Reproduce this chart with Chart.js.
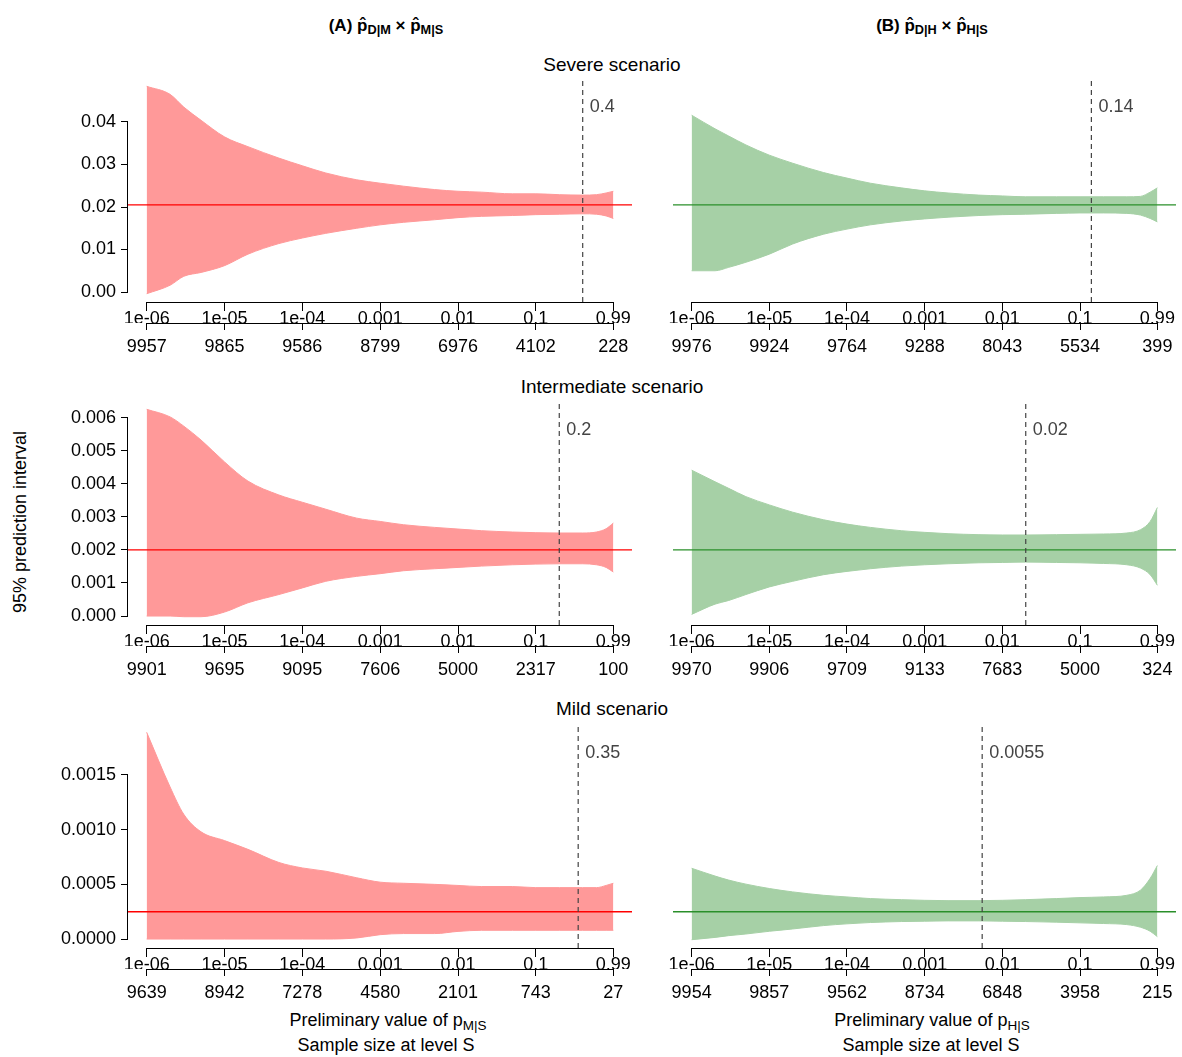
<!DOCTYPE html>
<html>
<head>
<meta charset="utf-8">
<script src="https://cdn.jsdelivr.net/npm/chart.js@4.4.1/dist/chart.umd.min.js"></script>
<style>
  body { margin: 0; background: #fff; font-family: "Liberation Sans", Arial, sans-serif; }
  #wrap { position: relative; width: 1182px; height: 1057px; overflow: hidden; }
  canvas { position: absolute; }
  .txt { position: absolute; white-space: nowrap; transform: translate(-50%, -50%); color: #000; font-size: 18px; line-height: 1; }
  .ttl { font-weight: bold; font-size: 17px; }
  .row { font-size: 19px; }
  .ylab { transform: translate(-50%, -50%) rotate(-90deg); }
  sub { font-size: 75%; vertical-align: -0.3em; line-height: 0; }
</style>
</head>
<body>
<div id="wrap">
  <div class="txt ttl" style="left:386px; top:25px">(A) p&#770;<sub>D|M</sub> &times; p&#770;<sub>M|S</sub></div>
  <div class="txt ttl" style="left:932px; top:25px">(B) p&#770;<sub>D|H</sub> &times; p&#770;<sub>H|S</sub></div>

  <div class="txt row" style="left:612px; top:64px">Severe scenario</div>
  <div class="txt row" style="left:612px; top:386px">Intermediate scenario</div>
  <div class="txt row" style="left:612px; top:708px">Mild scenario</div>

  <div class="txt ylab" style="left:20px; top:522px">95% prediction interval</div>

  <div class="txt" style="left:388px; top:1020px">Preliminary value of p<sub>M|S</sub></div>
  <div class="txt" style="left:386px; top:1045px">Sample size at level S</div>
  <div class="txt" style="left:932px; top:1020px">Preliminary value of p<sub>H|S</sub></div>
  <div class="txt" style="left:931px; top:1045px">Sample size at level S</div>

  <canvas id="c1" width="640" height="289" style="left:0px; top:70px"></canvas>
  <canvas id="c2" width="542" height="289" style="left:640px; top:70px"></canvas>
  <canvas id="c3" width="640" height="289" style="left:0px; top:393px"></canvas>
  <canvas id="c4" width="542" height="289" style="left:640px; top:393px"></canvas>
  <canvas id="c5" width="640" height="289" style="left:0px; top:716px"></canvas>
  <canvas id="c6" width="542" height="289" style="left:640px; top:716px"></canvas>
</div>

<script>
// preliminary values of p at which the intervals were computed
const pGrid = [1e-6, 2e-6, 3e-6, 5e-6, 1e-5, 2e-5, 5e-5, 1e-4, 2e-4, 5e-4, 0.001, 0.002, 0.005,
               0.01, 0.02, 0.05, 0.1, 0.2, 0.4, 0.6, 0.8, 0.99];

// severe scenario
const severeUpperA = [0.0484, 0.0465, 0.0435, 0.0404, 0.0365, 0.0342, 0.0315, 0.0297, 0.0280, 0.0264, 0.0256,
                      0.0249, 0.0241, 0.0237, 0.0235, 0.0231, 0.0231, 0.0229, 0.0228, 0.0229, 0.0233, 0.0237];
const severeLowerA = [-0.0004, 0.0016, 0.0037, 0.0046, 0.0062, 0.0089, 0.0114, 0.0127, 0.0138, 0.0150, 0.0158,
                      0.0164, 0.0170, 0.0175, 0.0178, 0.0180, 0.0182, 0.0183, 0.0184, 0.0183, 0.0179, 0.0173];
const severeUpperB = [0.0416, 0.0384, 0.0367, 0.0346, 0.0322, 0.0303, 0.0281, 0.0268, 0.0256, 0.0245, 0.0238,
                      0.0233, 0.0228, 0.0226, 0.0224, 0.0224, 0.0224, 0.0224, 0.0224, 0.0225, 0.0235, 0.0245];
const severeLowerB = [0.0050, 0.0050, 0.0058, 0.0070, 0.0089, 0.0113, 0.0136, 0.0148, 0.0158, 0.0167, 0.0172,
                      0.0176, 0.0180, 0.0182, 0.0183, 0.0185, 0.0186, 0.0186, 0.0185, 0.0181, 0.0173, 0.0165];

// intermediate scenario
const interUpperA = [0.00625, 0.00602, 0.00574, 0.00532, 0.00466, 0.00408, 0.00366, 0.00344, 0.00323, 0.00296, 0.00286,
                     0.00276, 0.00268, 0.00263, 0.00258, 0.00254, 0.00252, 0.00251, 0.00251, 0.00254, 0.00264, 0.00281];
const interLowerA = [0.0, 0.0, -0.00002, -0.00002, 0.00012, 0.00040, 0.00065, 0.00085, 0.00105, 0.00120, 0.00128,
                     0.00137, 0.00143, 0.00147, 0.00151, 0.00155, 0.00157, 0.00158, 0.00158, 0.00155, 0.00147, 0.00133];
const interUpperB = [0.00441, 0.00406, 0.00386, 0.00361, 0.00336, 0.00314, 0.00291, 0.00278, 0.00268, 0.00258, 0.00253,
                     0.00249, 0.00246, 0.00245, 0.00245, 0.00246, 0.00247, 0.00248, 0.00251, 0.00261, 0.00286, 0.00328];
const interLowerB = [0.00005, 0.00036, 0.00047, 0.00065, 0.00088, 0.00105, 0.00125, 0.00135, 0.00143, 0.00151, 0.00155,
                     0.00158, 0.00161, 0.00162, 0.00163, 0.00162, 0.00161, 0.00159, 0.00155, 0.00145, 0.00125, 0.00093];

// mild scenario
const mildUpperA = [0.00189, 0.00139, 0.00114, 0.00098, 0.00090, 0.00082, 0.00070, 0.00065, 0.00062, 0.00056, 0.00052,
                    0.00051, 0.00050, 0.00049, 0.00048, 0.00048, 0.00047, 0.00047, 0.00047, 0.00047, 0.00049, 0.00051];
const mildLowerA = [0.0, 0.0, 0.0, 0.0, 0.0, 0.0, 0.0, 0.0, 0.0, 0.00001, 0.00004,
                    0.00005, 0.00005, 0.00007, 0.00008, 0.00008, 0.00008, 0.00008, 0.00008, 0.00008, 0.00008, 0.00008];
const mildUpperB = [0.000647, 0.000576, 0.000539, 0.000502, 0.000462, 0.000431, 0.000400, 0.000385, 0.000370, 0.000360, 0.000354,
                    0.000351, 0.000351, 0.000354, 0.000360, 0.000370, 0.000379, 0.000385, 0.000400, 0.000447, 0.000555, 0.000672];
const mildLowerB = [-0.000006, 0.000015, 0.000031, 0.000046, 0.000071, 0.000092, 0.000123, 0.000139, 0.000151, 0.000160, 0.000163,
                    0.000166, 0.000166, 0.000163, 0.000160, 0.000154, 0.000148, 0.000142, 0.000132, 0.000108, 0.000071, 0.000022];

// true values (horizontal lines) and the dashed cut-offs
const trueValues = [0.0205, 0.002, 0.00025];
const cutoffsA = [0.4, 0.2, 0.35];
const cutoffsB = [0.14, 0.02, 0.0055];

// axis ticks
const pTicks = [1e-6, 1e-5, 1e-4, 0.001, 0.01, 0.1, 0.99];
const pTickLabels = ['1e-06', '1e-05', '1e-04', '0.001', '0.01', '0.1', '0.99'];
const sizesSevereA = ['9957', '9865', '9586', '8799', '6976', '4102', '228'];
const sizesSevereB = ['9976', '9924', '9764', '9288', '8043', '5534', '399'];
const sizesInterA = ['9901', '9695', '9095', '7606', '5000', '2317', '100'];
const sizesInterB = ['9970', '9906', '9709', '9133', '7683', '5000', '324'];
const sizesMildA = ['9639', '8942', '7278', '4580', '2101', '743', '27'];
const sizesMildB = ['9954', '9857', '9562', '8734', '6848', '3958', '215'];
const yTicksSevere = [0, 0.01, 0.02, 0.03, 0.04];
const yLabelsSevere = ['0.00', '0.01', '0.02', '0.03', '0.04'];
const yTicksInter = [0, 0.001, 0.002, 0.003, 0.004, 0.005, 0.006];
const yLabelsInter = ['0.000', '0.001', '0.002', '0.003', '0.004', '0.005', '0.006'];
const yTicksMild = [0, 0.0005, 0.001, 0.0015];
const yLabelsMild = ['0.0000', '0.0005', '0.0010', '0.0015'];

const RED_FILL = '#ff9999', RED_LINE = '#ff0000';
const GREEN_FILL = '#a6d0a6', GREEN_LINE = '#2a8f2a';

Chart.defaults.font.family = '"Liberation Sans", Arial, sans-serif';
Chart.defaults.font.size = 18;
Chart.defaults.color = '#000';

// R-like plot range: data range stretched by 4% on each side
function rRange(vals) {
  const lo = Math.min(...vals), hi = Math.max(...vals);
  const d = (hi - lo) * 0.04;
  return [lo - d, hi + d];
}
const logP = pGrid.map(p => Math.log10(p));
const xr = rRange(logP);
const xMin = Math.pow(10, xr[0]), xMax = Math.pow(10, xr[1]);

// axis lines only from first to last tick, as R draws them
const rAxisLines = {
  id: 'rAxisLines',
  afterDraw(chart) {
    const ctx = chart.ctx;
    ctx.save();
    ctx.strokeStyle = '#000';
    ctx.lineWidth = 1;
    ['x', 'x2'].forEach(id => {
      const s = chart.scales[id];
      const a = s.getPixelForValue(pTicks[0]);
      const b = s.getPixelForValue(pTicks[pTicks.length - 1]);
      ctx.beginPath();
      ctx.moveTo(a, Math.round(s.top) + 0.5);
      ctx.lineTo(b, Math.round(s.top) + 0.5);
      ctx.stroke();
    });
    const y = chart.scales.y;
    if (y.options.display) {
      const t = y.ticks;
      const a = y.getPixelForValue(t[0].value);
      const b = y.getPixelForValue(t[t.length - 1].value);
      ctx.beginPath();
      ctx.moveTo(Math.round(y.right) - 0.5, a);
      ctx.lineTo(Math.round(y.right) - 0.5, b);
      ctx.stroke();
    }
    ctx.restore();
  }
};

// text next to the dashed cut-off line
const cutoffLabel = {
  id: 'cutoffLabel',
  afterDatasetsDraw(chart, args, opts) {
    const x = chart.scales.x.getPixelForValue(opts.value);
    const ctx = chart.ctx;
    ctx.save();
    ctx.fillStyle = '#444';
    ctx.font = '18px "Liberation Sans", Arial, sans-serif';
    ctx.textBaseline = 'middle';
    ctx.fillText(opts.text, x + 7, chart.chartArea.top + 29);
    ctx.restore();
  }
};

function panel(id, cfg) {
  const yr = cfg.yRange;
  const left = cfg.showY;
  new Chart(document.getElementById(id), {
    type: 'line',
    data: {
      datasets: [
        {
          data: pGrid.map((p, i) => ({ x: p, y: cfg.upper[i] })),
          fill: '+1', backgroundColor: cfg.fill, borderColor: cfg.fill, borderWidth: 1,
          pointRadius: 0, cubicInterpolationMode: 'monotone', order: 3
        },
        {
          data: pGrid.map((p, i) => ({ x: p, y: cfg.lower[i] })),
          fill: false, borderColor: cfg.fill, borderWidth: 1,
          pointRadius: 0, cubicInterpolationMode: 'monotone', order: 3
        },
        {
          data: [{ x: xMin, y: cfg.truth }, { x: xMax, y: cfg.truth }],
          borderColor: cfg.line, borderWidth: 1.4, pointRadius: 0, fill: false, order: 2
        },
        {
          data: [{ x: cfg.cutoff, y: yr[0] }, { x: cfg.cutoff, y: yr[1] }],
          borderColor: '#444', borderWidth: 1.2, borderDash: [5, 4], pointRadius: 0, fill: false, order: 1
        }
      ]
    },
    options: {
      responsive: false,
      animation: false,
      events: [],
      layout: { padding: { top: 8, bottom: 0, left: left ? 0 : 33, right: left ? 8 : 6 } },
      plugins: {
        legend: { display: false },
        tooltip: { enabled: false },
        cutoffLabel: { value: cfg.cutoff, text: String(cfg.cutoff) }
      },
      scales: {
        x: {
          type: 'logarithmic', position: 'bottom', weight: 0,
          min: xMin, max: xMax,
          border: { display: false },
          grid: { drawOnChartArea: false, drawTicks: true, tickLength: 9, color: '#000' },
          ticks: { autoSkip: false, maxRotation: 0, minRotation: 0, padding: -3, color: '#000',
                   callback: (v, i) => pTickLabels[i] },
          afterBuildTicks: s => { s.ticks = pTicks.map(v => ({ value: v })); },
          afterFit: s => { s.height = 21; s.paddingLeft = 0; s.paddingRight = 0; }
        },
        x2: {
          type: 'logarithmic', position: 'bottom', weight: 1,
          min: xMin, max: xMax,
          border: { display: false },
          grid: { drawOnChartArea: false, drawTicks: true, tickLength: 7, color: '#000' },
          ticks: { autoSkip: false, maxRotation: 0, minRotation: 0, padding: 6, color: '#000',
                   callback: (v, i) => cfg.sizes[i] },
          afterBuildTicks: s => { s.ticks = pTicks.map(v => ({ value: v })); },
          afterFit: s => { s.height = 36; s.paddingLeft = 0; s.paddingRight = 0; }
        },
        y: {
          type: 'linear', display: left,
          min: yr[0], max: yr[1],
          border: { display: false },
          grid: { drawOnChartArea: false, drawTicks: true, tickLength: 7, color: '#000' },
          ticks: { padding: 5, color: '#000', callback: (v, i) => cfg.yLabels[i] },
          afterBuildTicks: s => { s.ticks = cfg.yTicks.map(v => ({ value: v })); },
          afterFit: s => { s.width = left ? 128 : 0; s.paddingTop = 0; s.paddingBottom = 0; }
        }
      }
    },
    plugins: [rAxisLines, cutoffLabel]
  });
}

const rows = [
  { upA: severeUpperA, loA: severeLowerA, upB: severeUpperB, loB: severeLowerB,
    sA: sizesSevereA, sB: sizesSevereB, yt: yTicksSevere, yl: yLabelsSevere },
  { upA: interUpperA, loA: interLowerA, upB: interUpperB, loB: interLowerB,
    sA: sizesInterA, sB: sizesInterB, yt: yTicksInter, yl: yLabelsInter },
  { upA: mildUpperA, loA: mildLowerA, upB: mildUpperB, loB: mildLowerB,
    sA: sizesMildA, sB: sizesMildB, yt: yTicksMild, yl: yLabelsMild }
];

rows.forEach((r, k) => {
  // both panels of a row share the same y range
  const yRange = rRange(r.upA.concat(r.loA, r.upB, r.loB));
  panel('c' + (2 * k + 1), {
    upper: r.upA, lower: r.loA, fill: RED_FILL, line: RED_LINE, truth: trueValues[k],
    cutoff: cutoffsA[k], sizes: r.sA, yTicks: r.yt, yLabels: r.yl, yRange: yRange, showY: true
  });
  panel('c' + (2 * k + 2), {
    upper: r.upB, lower: r.loB, fill: GREEN_FILL, line: GREEN_LINE, truth: trueValues[k],
    cutoff: cutoffsB[k], sizes: r.sB, yTicks: r.yt, yLabels: r.yl, yRange: yRange, showY: false
  });
});
</script>
</body>
</html>
